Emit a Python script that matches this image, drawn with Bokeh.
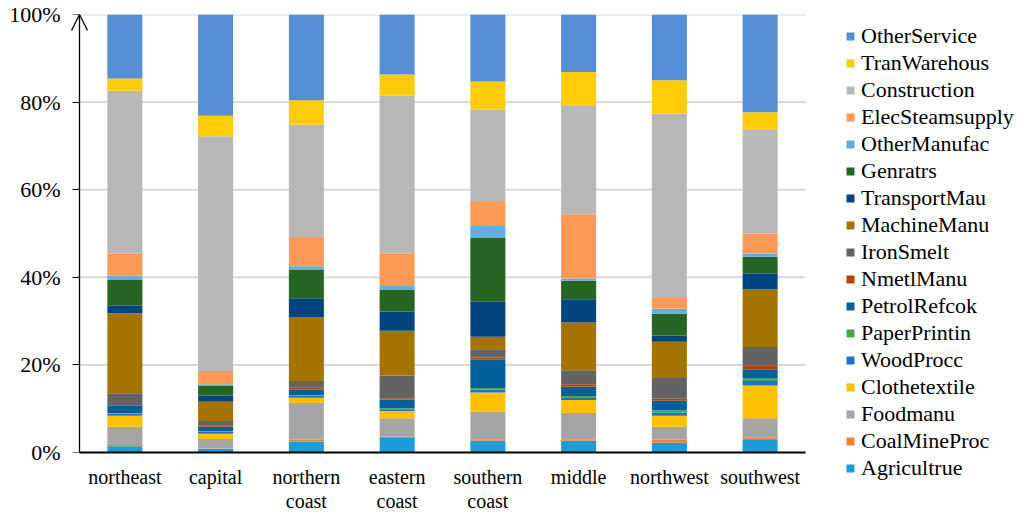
from bokeh.plotting import figure
from bokeh.models import ColumnDataSource, FixedTicker, Legend, LegendItem, Range1d, LinearAxis
from bokeh.embed import file_html
from bokeh.resources import INLINE

regions = ["northeast", "capital", "northern\ncoast", "eastern\ncoast",
           "southern\ncoast", "middle", "northwest", "southwest"]

sectors = ["Agricultrue", "CoalMineProc", "Foodmanu", "Clothetextile", "WoodProcc",
           "PaperPrintin", "PetrolRefcok", "NmetlManu", "IronSmelt", "MachineManu",
           "TransportMau", "Genratrs", "OtherManufac", "ElecSteamsupply",
           "Construction", "TranWarehous", "OtherService"]

Agricultrue = [1.4, 0.8, 2.5, 3.3, 2.7, 2.7, 2.2, 3.0]
CoalMineProc = [0.3, 0.1, 0.4, 0.3, 0.3, 0.3, 0.7, 0.4]
Foodmanu = [4.2, 2.2, 8.4, 4.2, 6.3, 6.0, 3.0, 4.4]
Clothetextile = [2.5, 1.2, 1.2, 1.7, 4.4, 3.0, 2.5, 7.5]
WoodProcc = [0.5, 0.5, 0.5, 0.4, 0.7, 0.6, 0.7, 1.0]
PaperPrintin = [0.1, 0.1, 0.1, 0.2, 0.3, 0.3, 0.5, 0.6]
PetrolRefcok = [1.6, 1.0, 1.3, 2.0, 6.5, 2.1, 2.2, 2.1]
NmetlManu = [0.2, 0.3, 0.5, 0.3, 0.5, 0.6, 0.5, 0.8]
IronSmelt = [2.7, 1.0, 1.4, 5.2, 1.9, 3.2, 4.7, 4.3]
MachineManu = [18.3, 4.4, 14.5, 10.2, 2.8, 10.9, 8.3, 13.1]
TransportMau = [1.7, 1.4, 4.4, 4.4, 8.0, 5.3, 1.4, 3.6]
Genratrs = [5.9, 2.3, 6.6, 5.0, 14.7, 4.2, 5.0, 3.9]
OtherManufac = [1.0, 0.3, 0.7, 0.8, 2.6, 0.5, 1.1, 0.7]
ElecSteamsupply = [5.0, 3.0, 6.5, 7.5, 5.5, 14.7, 2.5, 4.6]
Construction = [37.2, 53.6, 25.9, 36.0, 21.1, 24.9, 42.1, 23.8]
TranWarehous = [2.8, 4.7, 5.5, 4.8, 6.4, 7.6, 7.6, 3.9]
OtherService = [14.6, 23.1, 19.6, 13.7, 15.3, 13.1, 15.0, 22.3]

colors = ["#1c9cd8", "#f47f32", "#a5a5a5", "#ffc000", "#1f72c9",
          "#43ab43", "#02609a", "#b34500", "#636363", "#a57400",
          "#02447d", "#266622", "#5fb0e0", "#ff9955",
          "#b7b7b7", "#ffcc0a", "#558ed5"]

y_ticks = [0, 20, 40, 60, 80, 100]

series = [Agricultrue, CoalMineProc, Foodmanu, Clothetextile, WoodProcc,
          PaperPrintin, PetrolRefcok, NmetlManu, IronSmelt, MachineManu,
          TransportMau, Genratrs, OtherManufac, ElecSteamsupply,
          Construction, TranWarehous, OtherService]

xs = [i + 0.5 for i in range(len(regions))]
data = {"x": xs}
for name, vals in zip(sectors, series):
    data[name] = vals
source = ColumnDataSource(data)

n = len(regions)
px_x = 90.75          # pixels per category
frame_w, frame_h = 775, 438
px_y = frame_h / 100.0
x0 = -9 / px_x        # small gap left of the y axis (room for the arrow head)

p = figure(frame_width=frame_w, frame_height=frame_h, output_backend="svg",
           toolbar_location=None,
           x_range=Range1d(x0, x0 + frame_w / px_x), y_range=Range1d(0, 100),
           min_border_left=70, min_border_right=0, min_border_top=14,
           min_border_bottom=54)
p.outline_line_color = None
p.xgrid.visible = False
p.ygrid.visible = False

# horizontal gridlines over the category area only
p.segment(x0=[0] * (len(y_ticks) - 1), x1=[n] * (len(y_ticks) - 1),
          y0=y_ticks[1:], y1=y_ticks[1:], line_color="#d9d9d9", line_width=2)

renderers = p.vbar_stack(sectors, x="x", width=0.386, source=source,
                         color=colors, line_color=None)

# x axis
p.xaxis.ticker = FixedTicker(ticks=xs)
p.xaxis.major_label_overrides = {x: r for x, r in zip(xs, regions)}
p.xaxis.bounds = (0, n)
p.xaxis.axis_line_color = "black"
p.xaxis.axis_line_width = 2
p.xaxis.major_tick_line_color = None
p.xaxis.minor_tick_line_color = None
p.xaxis.major_label_standoff = 7
p.xaxis.major_label_text_font = "Liberation Serif"
p.xaxis.major_label_text_font_size = "20px"
p.xaxis.major_label_text_line_height = 1.1
p.xaxis.major_label_text_color = "black"

# y axis labels (at the frame edge)
p.yaxis.ticker = FixedTicker(ticks=y_ticks)
p.yaxis.major_label_overrides = {t: f"{t}%" for t in y_ticks}
p.yaxis.axis_line_color = None
p.yaxis.major_tick_line_color = None
p.yaxis.minor_tick_line_color = None
p.yaxis.major_tick_out = 0
p.yaxis.major_tick_in = 0
p.yaxis.major_label_standoff = 10
p.yaxis.major_label_text_font = "Liberation Serif"
p.yaxis.major_label_text_font_size = "22px"
p.yaxis.major_label_text_color = "black"

# y axis line and ticks, placed at x = 0
yline = LinearAxis(fixed_location=0, bounds=(0, 100),
                   ticker=FixedTicker(ticks=y_ticks),
                   major_label_overrides={t: "" for t in y_ticks},
                   axis_line_color="black", axis_line_width=1.3,
                   major_tick_line_color="black", major_tick_out=7, major_tick_in=0,
                   minor_tick_line_color=None, major_label_standoff=0)
p.add_layout(yline, "left")

# open arrow head on top of the y axis
hw, hh = 8 / px_x, 16 / px_y
top = y_ticks[-1]
p.segment(x0=[-hw, hw], y0=[top - hh, top - hh], x1=[0, 0], y1=[top, top],
          line_color="black", line_width=1.3)

items = [LegendItem(label=name, renderers=[r]) for name, r in zip(sectors, renderers)]
items.reverse()
legend = Legend(items=items, location=(0, -29), padding=0, margin=0,
                border_line_color=None, background_fill_alpha=0,
                label_text_font="Liberation Serif", label_text_font_size="22px",
                label_text_color="black", glyph_width=10, glyph_height=10,
                label_standoff=6, label_height=22, spacing=1)
p.add_layout(legend, "right")

open("out.html", "w").write(file_html(p, INLINE))
